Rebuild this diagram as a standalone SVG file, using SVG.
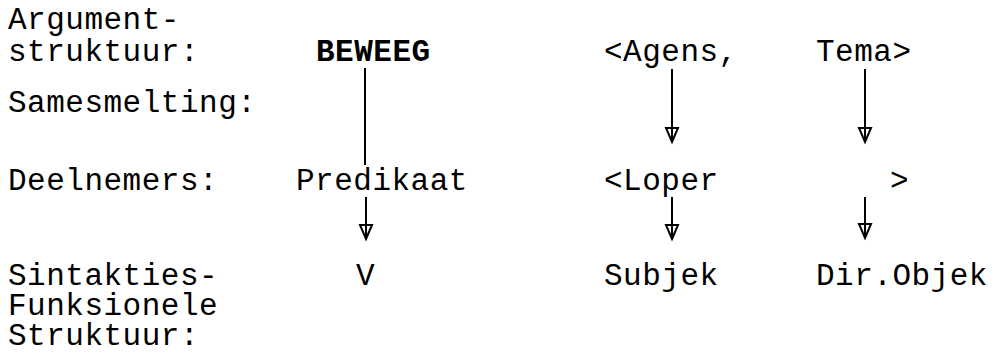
<svg xmlns="http://www.w3.org/2000/svg" width="995" height="354" viewBox="0 0 995 354">
<style>
text{font-family:"Liberation Mono","DejaVu Sans Mono",monospace;font-size:31px;letter-spacing:0.5px;fill:#000}
.b{font-weight:bold}
.c{stroke:#000;stroke-width:2;fill:none}
</style>
<defs>
<marker id="ah" viewBox="-16 -8 18 16" refX="0" refY="0" markerWidth="18" markerHeight="16" markerUnits="userSpaceOnUse" orient="auto" overflow="visible">
<path d="M0,0 L-14,-6 L-14,6 Z" fill="#fff" stroke="#000" stroke-width="2" stroke-linejoin="miter"/>
<line x1="-14" y1="0" x2="0" y2="0" stroke="#000" stroke-width="2"/>
</marker>
</defs>
<rect width="995" height="354" fill="#fff"/>
<g id="lbl-arg"><text x="8" y="29">Argument-</text><text x="8" y="61">struktuur:</text></g>
<g id="lbl-same"><text x="8" y="112">Samesmelting:</text></g>
<g id="lbl-deel"><text x="8" y="190">Deelnemers:</text></g>
<g id="lbl-sint"><text x="8" y="285">Sintakties-</text><text x="8" y="315">Funksionele</text><text x="8" y="345">Struktuur:</text></g>
<g id="n-beweeg"><text class="b" x="316" y="61">BEWEEG</text></g>
<g id="n-agens"><text x="604" y="61">&lt;Agens,</text></g>
<g id="n-tema"><text x="816" y="61">Tema&gt;</text></g>
<g id="n-predikaat"><text x="296" y="190">Predikaat</text></g>
<g id="n-loper"><text x="604" y="190">&lt;Loper</text></g>
<g id="n-close"><text x="890" y="190">&gt;</text></g>
<g id="n-v"><text x="356" y="285">V</text></g>
<g id="n-subjek"><text x="604" y="285">Subjek</text></g>
<g id="n-dirobjek"><text x="816" y="285">Dir.Objek</text></g>
<g id="connectors">
<line class="c" x1="365" y1="68" x2="365" y2="165"/>
<line class="c" x1="672" y1="69" x2="672" y2="142" marker-end="url(#ah)"/>
<line class="c" x1="865" y1="69" x2="865" y2="142" marker-end="url(#ah)"/>
<line class="c" x1="366" y1="197" x2="366" y2="239" marker-end="url(#ah)"/>
<line class="c" x1="672" y1="197" x2="672" y2="239" marker-end="url(#ah)"/>
<line class="c" x1="865" y1="197" x2="865" y2="238" marker-end="url(#ah)"/>
</g>
</svg>
